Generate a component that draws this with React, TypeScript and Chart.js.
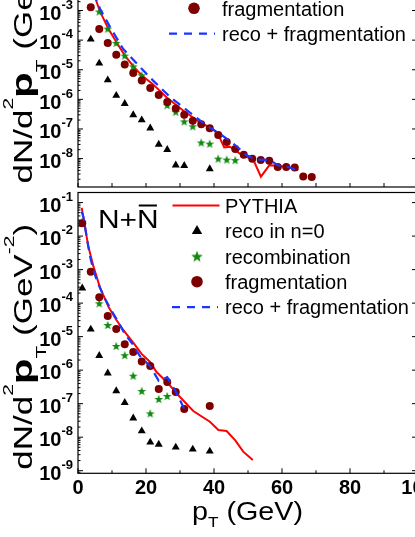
import React, { useEffect, useRef } from 'react';
import { Chart, registerables } from 'chart.js';

Chart.register(...registerables);

// ---------------- data: upper panel (partly outside the picture) ----------------
const topFragX = [3.75, 6.25, 8.75, 11.25, 13.75, 16.25, 18.75, 21.25, 23.75, 26.25, 28.75, 31.25, 33.75, 36.25, 38.75, 41.25, 43.75, 46.25, 48.75, 51.25, 53.75, 56.25, 58.75, 61.25, 63.75, 66.25, 68.75];
const topFragY = [1.3e-3, 2.4e-4, 8e-5, 3.2e-5, 1.5e-5, 7.8e-6, 4.3e-6, 2.4e-6, 1.4e-6, 8.1e-7, 4.9e-7, 3e-7, 1.9e-7, 1.45e-7, 1.05e-7, 6.3e-8, 3.6e-8, 2.1e-8, 1.35e-8, 9.8e-9, 8.9e-9, 8.4e-9, 5.2e-9, 5.2e-9, 5e-9, 2.5e-9, 2.4e-9];
const topRecoN0X = [3.75, 6.25, 8.75, 11.25, 13.75, 16.25, 18.75, 21.25, 23.75, 26.25, 28.75, 31.25, 38.75];
const topRecoN0Y = [1.07e-4, 1.65e-5, 4.5e-6, 1.35e-6, 7.2e-7, 3e-7, 2e-7, 1.07e-7, 3e-8, 2e-8, 6e-9, 5.8e-9, 4.5e-9];
const topRecombX = [6.25, 8.75, 11.25, 13.75, 16.25, 18.75, 26.25, 28.75, 31.25, 33.75, 36.25, 38.75, 41.25, 43.75, 46.25];
const topRecombY = [9.3e-4, 2.45e-4, 8.1e-5, 3e-5, 1.3e-5, 6.5e-6, 6.4e-7, 3.8e-7, 1.8e-7, 1.23e-7, 3.5e-8, 3.2e-8, 1e-8, 9.3e-9, 8.9e-9];
const topPythiaX = [2.5, 4.0, 5.0, 6.47, 8.9, 11.4, 13.8, 16.3, 18.7, 22.1, 26.1, 31.0, 35.9, 39.8, 41.3, 43.0, 44.7, 47.6, 51.6, 53.8, 56.3, 58.9, 61.4, 64.8];
const topPythiaY = [3.16e-2, 6.3e-3, 2.8e-3, 9.3e-4, 2.45e-4, 8.1e-5, 3e-5, 1.3e-5, 6.5e-6, 3.2e-6, 1.15e-6, 4.1e-7, 1.66e-7, 9.5e-8, 6.3e-8, 2.4e-8, 2.5e-8, 1.48e-8, 8.9e-9, 2.45e-9, 6e-9, 5.6e-9, 5.2e-9, 4.1e-9];
const topSumX = [2.5, 4.5, 6.5, 9.4, 13.3, 18.2, 22.1, 27.1, 32.9, 37.9, 41.8, 45.7, 49.6, 52.4, 56.5, 58.7, 62.4, 65.1];
const topSumY = [3.98e-2, 5e-3, 1.12e-3, 2.8e-4, 5e-5, 1.26e-5, 4.3e-6, 1.2e-6, 3.6e-7, 1.29e-7, 6.8e-8, 3.2e-8, 1.29e-8, 9.3e-9, 8.9e-9, 6e-9, 5e-9, 3.6e-9];

// ---------------- data: lower panel (N + anti-N) ----------------
const botFragX = [1.25, 3.75, 6.25, 8.75, 11.25, 13.75, 16.25, 18.75, 21.25, 23.75, 26.25, 28.75, 31.25, 38.75];
const botFragY = [0.0243, 8.7e-4, 1.5e-4, 4.15e-5, 1.7e-5, 5.97e-6, 3.5e-6, 1.8e-6, 1.33e-6, 2.75e-7, 4.45e-7, 2.23e-7, 6.95e-8, 8.5e-8];
const botRecoN0X = [1.25, 3.75, 6.25, 8.75, 11.25, 13.75, 16.25, 18.75, 21.25, 23.75, 28.75, 33.75, 38.75];
const botRecoN0Y = [2.8e-4, 1.66e-5, 2.7e-6, 8.1e-7, 2.4e-7, 1.07e-7, 3.7e-8, 1.53e-8, 7.05e-9, 6.1e-9, 5e-9, 4.35e-9, 3.8e-9];
const botRecombX = [1.25, 6.25, 8.75, 11.25, 13.75, 16.25, 18.75, 21.25, 23.75, 26.25];
const botRecombY = [0.027, 9.9e-5, 2.23e-5, 5.27e-6, 2.8e-6, 6.85e-7, 2.4e-7, 5.15e-8, 1.38e-7, 1.7e-7];
const botPythiaX = [1.1, 2.1, 3.0, 4.5, 6.5, 9.0, 11.3, 13.3, 16.3, 18.7, 21.2, 23.1, 26.1, 30.0, 33.9, 38.8, 41.3, 43.7, 46.2, 48.6, 51.4];
const botPythiaY = [0.0695, 0.0176, 5.1e-3, 1.29e-3, 2.84e-4, 7.7e-5, 3.15e-5, 1.58e-5, 6.5e-6, 3.05e-6, 1.76e-6, 8.8e-7, 4.45e-7, 1.58e-7, 6.05e-8, 2.9e-8, 1.64e-8, 1.53e-8, 8.2e-9, 3.7e-9, 2.1e-9];
const botSumX = [1.1, 1.6, 2.7, 3.5, 4.5, 5.5, 7.5, 9.4, 11.5, 13.8, 16.0, 18.2, 20.0, 21.25, 23.75, 26.25, 28.75, 31.25];
const botSumY = [0.0527, 0.0374, 7.7e-3, 2.56e-3, 9.8e-4, 4.93e-4, 1.64e-4, 7.2e-5, 3.15e-5, 1.2e-5, 6.05e-6, 2.65e-6, 1.76e-6, 1.3e-6, 4.8e-7, 6.2e-7, 2.3e-7, 7e-8];

// ---------------- axes / labels ----------------
const xMin = 0;
const xMax = 100;
const xLabelTicks = [0, 20, 40, 60, 80, 100];
const legendLabels = ['PYTHIA', 'reco in n=0', 'recombination', 'fragmentation', 'reco + fragmentation'];
const xTitleMain = 'p';
const xTitleSub = 'T';
const xTitleRest = ' (GeV)';
const panelLabel = 'N+N';

const F = '"Liberation Sans", Arial, Helvetica, sans-serif';
const C = {
  pythia: '#ff0000',
  reco0: '#000000',
  recomb: '#108a10',
  frag: '#7d0000',
  sum: '#1a35ff',
};

function makeStar(outer: number, color: string): HTMLCanvasElement {
  const size = Math.ceil(outer * 2 + 2);
  const c = document.createElement('canvas');
  c.width = size;
  c.height = size;
  const ctx = c.getContext('2d')!;
  const cx = size / 2;
  const cy = size / 2 + outer * 0.1;
  const inner = outer * 0.42;
  ctx.beginPath();
  for (let i = 0; i < 10; i++) {
    const r = i % 2 === 0 ? outer : inner;
    const a = -Math.PI / 2 + (i * Math.PI) / 5;
    ctx.lineTo(cx + r * Math.cos(a), cy + r * Math.sin(a));
  }
  ctx.closePath();
  ctx.fillStyle = color;
  ctx.fill();
  return c;
}

type Seg = { t: string; font: string; dy: number };

function segsWidth(ctx: CanvasRenderingContext2D, segs: Seg[]) {
  let w = 0;
  for (const s of segs) {
    ctx.font = s.font;
    w += ctx.measureText(s.t).width;
  }
  return w;
}
function drawSegs(ctx: CanvasRenderingContext2D, segs: Seg[], x0: number, y0: number) {
  let x = x0;
  for (const s of segs) {
    ctx.font = s.font;
    ctx.fillText(s.t, x, y0 + s.dy);
    x += ctx.measureText(s.t).width;
  }
}

const yTitleSegs: Seg[] = [
  { t: 'dN/d', font: `25px ${F}`, dy: 0 },
  { t: '2', font: `15px ${F}`, dy: -19 },
  { t: 'p', font: `bold 30px ${F}`, dy: 0 },
  { t: 'T', font: `15px ${F}`, dy: 14 },
  { t: ' (GeV', font: `25px ${F}`, dy: 0 },
  { t: '-2', font: `15px ${F}`, dy: -18 },
  { t: ')', font: `25px ${F}`, dy: 0 },
];

type PanelCfg = {
  showXLabels: boolean;
  legendOffset: number;
  legendDx: number;
  showPanelLabel: boolean;
};

function line(ctx: CanvasRenderingContext2D, x1: number, y1: number, x2: number, y2: number) {
  ctx.beginPath();
  ctx.moveTo(x1, y1);
  ctx.lineTo(x2, y2);
  ctx.stroke();
}

function decoPlugin(cfg: PanelCfg, starLegend: HTMLCanvasElement) {
  return {
    id: 'deco',
    afterDraw(chart: any) {
      const ctx: CanvasRenderingContext2D = chart.ctx;
      const { left, right, top, bottom } = chart.chartArea;
      const xs = chart.scales.x;
      const ys = chart.scales.y;
      ctx.save();
      ctx.strokeStyle = '#000';
      ctx.fillStyle = '#000';
      ctx.lineWidth = 1.2;
      ctx.strokeRect(left, top, right - left, bottom - top);

      // y ticks + labels
      const lo = Math.log10(ys.min);
      const hi = Math.log10(ys.max);
      ctx.lineWidth = 1;
      for (let e = Math.floor(lo); e <= Math.ceil(hi); e++) {
        for (let k = 1; k <= 9; k++) {
          const v = k * Math.pow(10, e);
          const py = ys.getPixelForValue(v);
          if (py < top - 0.5 || py > bottom + 0.5) continue;
          if (k === 1) {
            line(ctx, left, py, left + 5, py);
            line(ctx, right - 6, py, right, py);
            ctx.textBaseline = 'alphabetic';
            ctx.textAlign = 'left';
            const sup = String(e);
            ctx.font = `bold 13px ${F}`;
            const wSup = ctx.measureText(sup).width;
            ctx.font = `bold 20px ${F}`;
            const wMain = ctx.measureText('10').width;
            const x0 = left - 5 - wSup - wMain;
            ctx.fillText('10', x0, py + 9.3);
            ctx.font = `bold 13px ${F}`;
            ctx.fillText(sup, x0 + wMain, py - 1.7);
          } else {
            line(ctx, left, py, left + 2.5, py);
          }
        }
      }

      // x ticks
      for (let v = xMin; v <= xMax; v += 10) {
        const px = xs.getPixelForValue(v);
        if (cfg.showXLabels) {
          line(ctx, px, bottom, px, bottom - (v % 20 === 0 ? 5 : 3));
        } else {
          line(ctx, px, bottom, px, bottom - 4);
        }
      }
      if (cfg.showXLabels) {
        ctx.font = `bold 20px ${F}`;
        ctx.textAlign = 'center';
        ctx.textBaseline = 'alphabetic';
        for (const v of xLabelTicks) {
          ctx.fillText(String(v), xs.getPixelForValue(v), bottom + 20.7);
        }
        // x title
        const segs: Seg[] = [
          { t: xTitleMain, font: `25px ${F}`, dy: 0 },
          { t: xTitleSub, font: `15px ${F}`, dy: 7 },
          { t: xTitleRest, font: `25px ${F}`, dy: 0 },
        ];
        ctx.textAlign = 'left';
        const w = segsWidth(ctx, segs);
        const sx = 111 / w;
        ctx.save();
        ctx.translate(247.5 - 78 + left, bottom + 46.7);
        ctx.scale(sx, 1);
        drawSegs(ctx, segs, -w / 2, 0);
        ctx.restore();
      }

      // y title (rotated), starting just above the panel's bottom edge
      {
        ctx.textAlign = 'left';
        ctx.textBaseline = 'alphabetic';
        ctx.save();
        ctx.translate(32, bottom - 3.5);
        ctx.rotate(-Math.PI / 2);
        ctx.scale(1.4, 1);
        drawSegs(ctx, yTitleSegs, 0, 0);
        ctx.restore();
      }

      // legend
      const row0 = top + cfg.legendOffset;
      const dyRow = 25.4;
      const symX = left + 119 + cfg.legendDx;
      const textX = left + 147 + cfg.legendDx;
      ctx.font = `20px ${F}`;
      ctx.textAlign = 'left';
      ctx.textBaseline = 'alphabetic';
      for (let i = 0; i < legendLabels.length; i++) {
        const cy = row0 + i * dyRow;
        ctx.fillStyle = '#000';
        ctx.fillText(legendLabels[i], textX, cy + 7.2);
        if (i === 0) {
          ctx.strokeStyle = C.pythia;
          ctx.lineWidth = 2;
          ctx.setLineDash([]);
          line(ctx, symX - 24.5, cy, symX + 22.5, cy);
        } else if (i === 1) {
          const r = 6;
          ctx.fillStyle = C.reco0;
          ctx.beginPath();
          ctx.moveTo(symX, cy - r);
          ctx.lineTo(symX + r * 0.866, cy + r * 0.5);
          ctx.lineTo(symX - r * 0.866, cy + r * 0.5);
          ctx.closePath();
          ctx.fill();
        } else if (i === 2) {
          ctx.drawImage(starLegend, symX - starLegend.width / 2, cy - starLegend.height / 2);
        } else if (i === 3) {
          ctx.fillStyle = C.frag;
          ctx.beginPath();
          ctx.arc(symX, cy, 5.8, 0, Math.PI * 2);
          ctx.fill();
        } else {
          ctx.strokeStyle = C.sum;
          ctx.lineWidth = 2.2;
          ctx.setLineDash([8, 7]);
          line(ctx, symX - 25, cy, symX + 21, cy);
          ctx.setLineDash([]);
        }
      }

      if (cfg.showPanelLabel) {
        ctx.fillStyle = '#000';
        ctx.textAlign = 'left';
        const bx = left + 20;
        const by = top + 35.5;
        ctx.save();
        ctx.translate(bx, by);
        ctx.scale(1.15, 1);
        ctx.font = `26px ${F}`;
        ctx.fillText(panelLabel, 0, 0);
        const wAll = ctx.measureText(panelLabel).width;
        const wN = ctx.measureText('N').width;
        ctx.strokeStyle = '#000';
        ctx.lineWidth = 2;
        line(ctx, wAll - wN + 1.5, -22.5, wAll - 1.5, -22.5);
        ctx.restore();
      }
      ctx.restore();
    },
  };
}

function pts(xs: number[], ys: number[]) {
  return xs.map((x, i) => ({ x, y: ys[i] }));
}

type PanelData = {
  fragX: number[]; fragY: number[];
  r0X: number[]; r0Y: number[];
  recX: number[]; recY: number[];
  pyX: number[]; pyY: number[];
  sumX: number[]; sumY: number[];
};

function buildDatasets(d: PanelData, star: HTMLCanvasElement) {
  return [
    {
      label: legendLabels[4], data: pts(d.sumX, d.sumY), borderColor: C.sum, borderWidth: 2.2,
      borderDash: [9, 6], pointRadius: 0, showLine: true, fill: false, tension: 0, order: 0,
    },
    {
      label: legendLabels[3], data: pts(d.fragX, d.fragY), showLine: false, pointStyle: 'circle',
      pointRadius: 4, backgroundColor: C.frag, borderColor: C.frag, pointBorderWidth: 0, order: 1,
    },
    {
      label: legendLabels[2], data: pts(d.recX, d.recY), showLine: false, pointStyle: star,
      pointRadius: 4, backgroundColor: C.recomb, borderColor: C.recomb, order: 2,
    },
    {
      label: legendLabels[1], data: pts(d.r0X, d.r0Y), showLine: false, pointStyle: 'triangle',
      pointRadius: 4.6, backgroundColor: C.reco0, borderColor: C.reco0, pointBorderWidth: 0, order: 3,
    },
    {
      label: legendLabels[0], data: pts(d.pyX, d.pyY), borderColor: C.pythia, borderWidth: 2,
      pointRadius: 0, showLine: true, fill: false, tension: 0, order: 4,
    },
  ];
}

function makeChart(
  canvas: HTMLCanvasElement, d: PanelData, yMin: number, yMax: number,
  pad: { top: number; bottom: number }, cfg: PanelCfg,
) {
  const star = makeStar(4.6, C.recomb);
  const starLegend = makeStar(6, C.recomb);
  return new Chart(canvas, {
    type: 'line',
    data: { datasets: buildDatasets(d, star) as any },
    options: {
      animation: false,
      responsive: false,
      maintainAspectRatio: false,
      devicePixelRatio: 1,
      events: [],
      layout: { padding: { left: 78, right: 12, top: pad.top, bottom: pad.bottom } },
      plugins: { legend: { display: false }, tooltip: { enabled: false } },
      scales: {
        x: { type: 'linear', min: xMin, max: xMax, display: false },
        y: { type: 'logarithmic', min: yMin, max: yMax, display: false },
      },
    } as any,
    plugins: [decoPlugin(cfg, starLegend)],
  });
}

export default function App() {
  const topRef = useRef<HTMLCanvasElement>(null);
  const botRef = useRef<HTMLCanvasElement>(null);

  useEffect(() => {
    document.body.style.margin = '0';
    const top = makeChart(
      topRef.current!,
      {
        fragX: topFragX, fragY: topFragY, r0X: topRecoN0X, r0Y: topRecoN0Y,
        recX: topRecombX, recY: topRecombY, pyX: topPythiaX, pyY: topPythiaY,
        sumX: topSumX, sumY: topSumY,
      },
      Math.pow(10, -8.96), 1,
      { top: 11.7, bottom: 1.5 },
      { showXLabels: false, legendOffset: 10.4, legendDx: -3, showPanelLabel: false },
    );
    const bot = makeChart(
      botRef.current!,
      {
        fragX: botFragX, fragY: botFragY, r0X: botRecoN0X, r0Y: botRecoN0Y,
        recX: botRecombX, recY: botRecombY, pyX: botPythiaX, pyY: botPythiaY,
        sumX: botSumX, sumY: botSumY,
      },
      Math.pow(10, -9.078), 0.2,
      { top: 12.5, bottom: 63.7 },
      { showXLabels: true, legendOffset: 13, legendDx: 0, showPanelLabel: true },
    );
    return () => {
      top.destroy();
      bot.destroy();
    };
  }, []);

  return (
    <div style={{ position: 'fixed', left: 0, top: 0, width: 415, height: 537, overflow: 'hidden', background: '#fff' }}>
      <canvas ref={topRef} width={430} height={282} style={{ position: 'absolute', left: 0, top: -90 }} />
      <canvas ref={botRef} width={430} height={357} style={{ position: 'absolute', left: 0, top: 180 }} />
    </div>
  );
}
